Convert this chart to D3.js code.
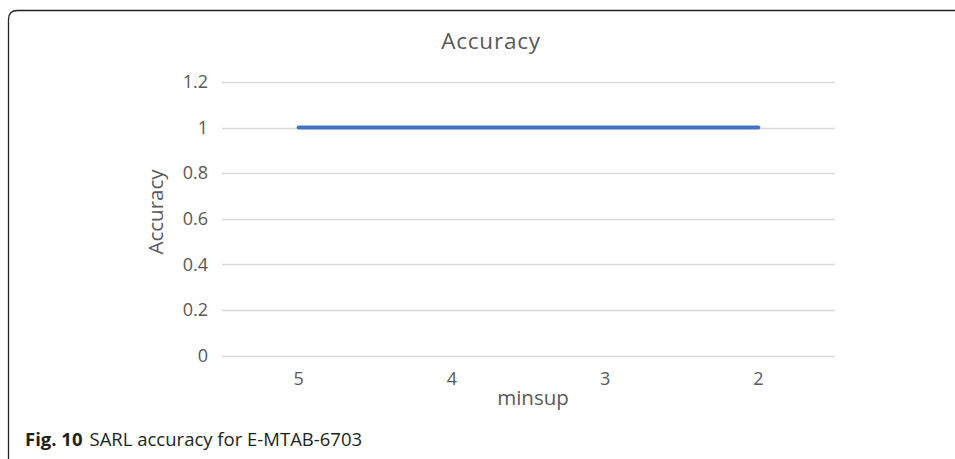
<!DOCTYPE html>
<html>
<head>
<meta charset="utf-8">
<script src="https://cdn.jsdelivr.net/npm/d3@7"></script>
<style>
html,body{margin:0;padding:0;background:#fff;}
svg{display:block;}
</style>
</head>
<body>
<svg id="chart" width="955" height="459"></svg>
<script>
const categories = ["5", "4", "3", "2"];
const accuracyValues = [1, 1, 1, 1];
const yTicks = [0, 0.2, 0.4, 0.6, 0.8, 1, 1.2];
const chartTitle = "Accuracy";
const xTitle = "minsup";
const yTitle = "Accuracy";

(function () {
const svg = d3.select("#chart");
const font = "'Open Sans', 'Noto Sans', sans-serif";
const textColor = "#595959";

// frame (top and left, rounded corner)
const r = 9;
svg.append("path")
  .attr("d", `M8.5,459 L8.5,${10.5 + r} Q8.5,10.5 ${8.5 + r},10.5 L955,10.5`)
  .attr("fill", "none").attr("stroke", "#222").attr("stroke-width", 1.3);

const pLeft = 222, pRight = 835, pTop = 82, pBottom = 355.7;

const x = d3.scaleBand().domain(categories).range([pLeft, pRight]);
const y = d3.scaleLinear().domain([0, 1.2]).range([pBottom, pTop]);

// gridlines
svg.append("g").selectAll("line").data(yTicks).join("line")
  .attr("x1", pLeft).attr("x2", pRight)
  .attr("y1", d => Math.round(y(d)) + 0.5).attr("y2", d => Math.round(y(d)) + 0.5)
  .attr("stroke", "#d9d9d9").attr("stroke-width", 1.3);

// y axis labels
const yAxis = d3.axisLeft(y).tickValues(yTicks).tickSize(0).tickPadding(14)
  .tickFormat(d => String(d));
const gy = svg.append("g").attr("transform", `translate(${pLeft},0)`).call(yAxis);
gy.select(".domain").remove();
gy.selectAll("text").attr("font-family", font).attr("font-size", 18).attr("fill", textColor);

// x axis labels
const xAxis = d3.axisBottom(x).tickSize(0).tickPadding(16.5);
const gx = svg.append("g").attr("transform", `translate(0,${pBottom})`).call(xAxis);
gx.select(".domain").remove();
gx.selectAll("text").attr("font-family", font).attr("font-size", 18).attr("fill", textColor);

// line
const line = d3.line().x((d, i) => x(categories[i]) + x.bandwidth() / 2).y(d => y(d));
svg.append("path").datum(accuracyValues)
  .attr("d", line).attr("fill", "none")
  .attr("stroke", "#4472C4").attr("stroke-width", 4).attr("stroke-linecap", "round");

// titles
svg.append("text").attr("x", 491).attr("y", 48.5).attr("text-anchor", "middle")
  .attr("font-family", font).attr("font-size", 22.5).attr("letter-spacing", 0.8)
  .attr("fill", textColor).text(chartTitle);
svg.append("text").attr("x", 533).attr("y", 405).attr("text-anchor", "middle")
  .attr("font-family", font).attr("font-size", 20.5).attr("fill", textColor).text(xTitle);
svg.append("text").attr("transform", "translate(163,212) rotate(-90)").attr("text-anchor", "middle")
  .attr("font-family", font).attr("font-size", 20.5).attr("fill", textColor).text(yTitle);

// caption
const cap = svg.append("text").attr("x", 25).attr("y", 446)
  .attr("font-family", font).attr("font-size", 18.5).attr("fill", "#231f20");
cap.append("tspan").attr("font-weight", "bold").text("Fig. 10");
cap.append("tspan").attr("dx", 7).text("SARL accuracy for E-MTAB-6703");
})();
</script>
</body>
</html>
